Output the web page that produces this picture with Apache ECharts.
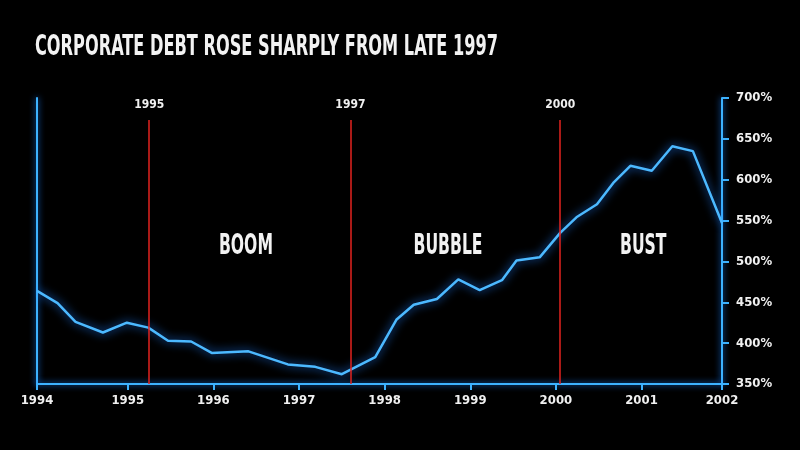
<!DOCTYPE html>
<html>
<head>
<meta charset="utf-8">
<title>Corporate debt</title>
<script src="https://cdn.jsdelivr.net/npm/echarts@6/dist/echarts.min.js"></script>
<style>
  html, body { margin: 0; padding: 0; background: #000; }
  #chart { width: 800px; height: 450px; }
</style>
</head>
<body>
<div id="chart"></div>
<script>
// debt level (%), roughly quarterly
const years = [1993.94, 1994.18, 1994.39, 1994.71, 1994.99, 1995.24, 1995.47, 1995.74,
  1995.98, 1996.41, 1996.87, 1997.19, 1997.50, 1997.89, 1998.14, 1998.34, 1998.61,
  1998.86, 1999.11, 1999.37, 1999.54, 1999.81, 2000.05, 2000.24, 2000.48, 2000.67,
  2000.87, 2001.12, 2001.36, 2001.60, 2001.94];
const debt = [464, 449, 426, 413, 425, 419, 403, 402, 388, 390, 374, 371, 362, 383, 429,
  447, 454, 478, 465, 477, 501, 505, 535, 554, 570, 596, 617, 611, 641, 635, 547];

// axis span and year ticks
const xMin = 1993.94;
const xMax = 2001.94;
const yearTicks = [1995, 1996, 1997, 1998, 1999, 2000, 2001];

// red markers
const markerYears = [1995.25, 1997.6, 2000.05];
const markerLabels = ["1995", "1997", "2000"];
const markerTop = 673;

// phase labels
const phaseNames = ["BOOM", "BUBBLE", "BUST"];
const phaseYears = [1996.38, 1998.74, 2001.02];
const phaseLevel = 518;

const yTicks = { min: 350, max: 700, step: 50 };

const titleText = "CORPORATE DEBT ROSE SHARPLY FROM LATE 1997";

const blue = "#3db2ff";
const font = '"DejaVu Sans Condensed", "Liberation Sans", sans-serif';
const squeeze = 0.62; // condensed headline look

const chart = echarts.init(document.getElementById("chart"));

const tickValues = [xMin].concat(yearTicks, [xMax]);

const option = {
  backgroundColor: "#000",
  animation: false,
  grid: { left: 37, right: 78, top: 98, bottom: 66 },
  xAxis: {
    type: "value",
    min: xMin,
    max: xMax,
    splitLine: { show: false },
    axisLine: {
      lineStyle: { color: blue, width: 2, shadowBlur: 6, shadowColor: "#1a7fff" },
    },
    axisTick: {
      length: 6,
      customValues: tickValues,
      lineStyle: { color: blue, width: 2 },
    },
    axisLabel: {
      color: "#f0f0f0",
      fontFamily: font,
      fontWeight: "bold",
      fontSize: 13,
      margin: 10,
      customValues: tickValues,
      formatter: (v) => String(Math.round(v)),
    },
  },
  yAxis: [
    {
      type: "value",
      position: "right",
      min: yTicks.min,
      max: yTicks.max,
      interval: yTicks.step,
      splitLine: { show: false },
      axisLine: {
        show: true,
        lineStyle: { color: blue, width: 2, shadowBlur: 6, shadowColor: "#1a7fff" },
      },
      axisTick: { show: true, length: 7, lineStyle: { color: blue, width: 2 } },
      axisLabel: {
        color: "#f0f0f0",
        fontFamily: font,
        fontWeight: "bold",
        fontSize: 13,
        margin: 14,
        formatter: "{value}%",
      },
    },
    {
      type: "value",
      position: "left",
      min: yTicks.min,
      max: yTicks.max,
      interval: yTicks.step,
      splitLine: { show: false },
      axisLine: {
        show: true,
        lineStyle: { color: blue, width: 2, shadowBlur: 6, shadowColor: "#1a7fff" },
      },
      axisTick: { show: false },
      axisLabel: { show: false },
    },
  ],
  series: [
    {
      // red markers, kept under the blue line
      type: "line",
      data: [],
      z: 1,
      markLine: {
        silent: true,
        symbol: "none",
        lineStyle: { color: "#e3231f", width: 1.5, type: "solid" },
        label: {
          show: true,
          position: "end",
          distance: 9,
          color: "#f0f0f0",
          fontFamily: font,
          fontWeight: "bold",
          fontSize: 12,
        },
        data: markerYears.map((x, i) => [
          { coord: [x, yTicks.min], name: markerLabels[i] },
          { coord: [x, markerTop], name: markerLabels[i] },
        ]),
      },
    },
    {
      type: "line",
      z: 3,
      symbol: "none",
      data: years.map((y, i) => [y, debt[i]]),
      lineStyle: {
        color: "#4cb9ff",
        width: 2.5,
        shadowBlur: 10,
        shadowColor: "#1f7dff",
      },
    },
  ],
};

chart.setOption(option);

// headline + phase names drawn as squeezed text, placed through the chart's own scales
function bigText(text, x, y, size, align) {
  return {
    type: "text",
    x: x,
    y: y,
    scaleX: squeeze,
    z: 10,
    style: {
      text: text,
      fill: "#f2f2f2",
      fontFamily: font,
      fontWeight: "bold",
      fontSize: size,
      align: align,
      verticalAlign: "middle",
    },
  };
}

const labels = phaseNames.map((name, i) => {
  const p = chart.convertToPixel({ xAxisIndex: 0, yAxisIndex: 0 }, [phaseYears[i], phaseLevel]);
  return bigText(name, p[0], p[1], 28, "center");
});

chart.setOption({
  graphic: [bigText(titleText, 35, 47, 29, "left")].concat(labels),
});
</script>
</body>
</html>
